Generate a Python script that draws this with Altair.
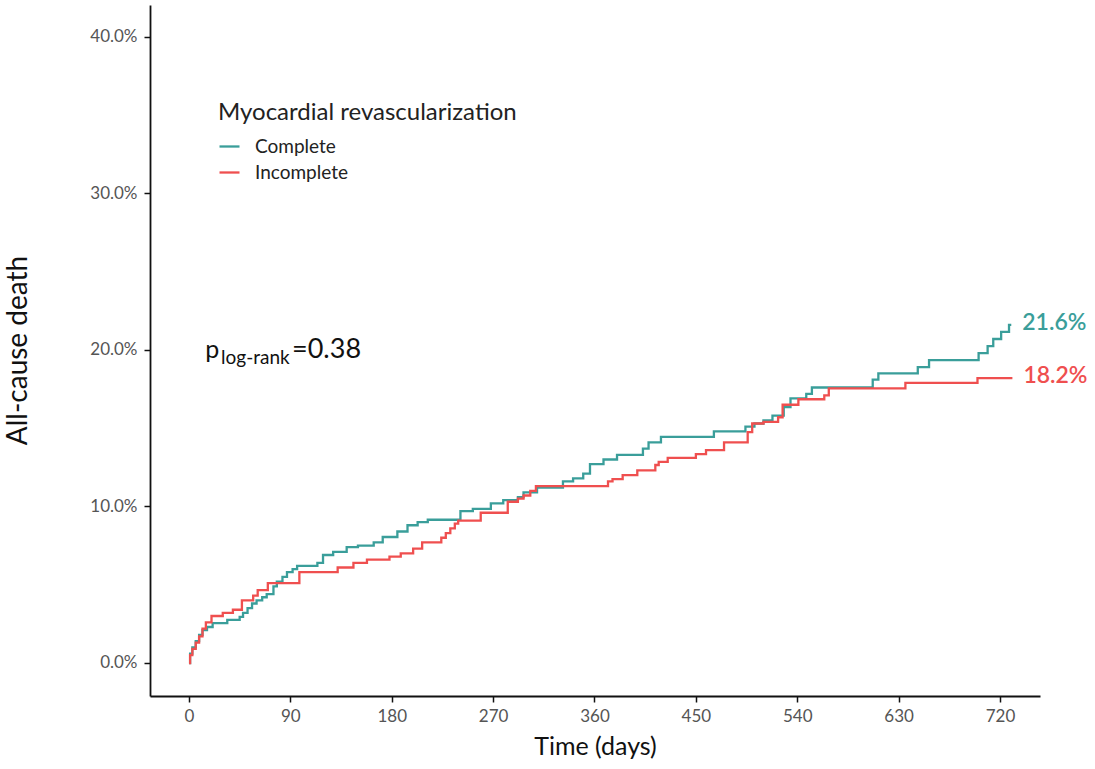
import altair as alt
import pandas as pd

# ---- data (days, cumulative %) ----
complete_t = [0, 1, 3, 6, 9, 12, 16, 21, 34, 45, 48, 52, 56, 60, 65, 69, 75, 78, 83, 87, 92, 96,
              114, 119, 128, 140, 150, 164, 172, 185, 194, 203, 212, 241, 252, 268, 279, 292, 297,
              309, 332, 341, 350, 356, 368, 380, 403, 408, 419, 466, 494, 502, 510, 518, 528, 534,
              548, 553, 607, 612, 647, 657, 701, 709, 714, 721, 728, 730]
complete_v = [0.0, 0.6, 1.0, 1.4, 1.8, 2.1, 2.3, 2.55, 2.75, 2.95, 3.2, 3.5, 3.8, 4.0, 4.2, 4.4, 4.9,
              5.2, 5.5, 5.8, 6.0, 6.2, 6.4, 6.9, 7.1, 7.4, 7.5, 7.7, 8.05, 8.4, 8.8, 9.0, 9.15, 9.7,
              9.85, 10.2, 10.4, 10.6, 10.9, 11.2, 11.6, 11.8, 12.1, 12.7, 13.0, 13.3, 13.7, 14.1,
              14.45, 14.8, 15.1, 15.3, 15.5, 15.8, 16.35, 16.9, 17.2, 17.6, 18.1, 18.5, 18.9, 19.35,
              19.8, 20.25, 20.7, 21.15, 21.6, 21.6]

incomplete_t = [0, 1, 3, 6, 9, 12, 15, 20, 30, 39, 47, 57, 61, 70, 98, 132, 146, 158, 178, 188, 199,
                207, 224, 228, 232, 236, 239, 259, 283, 292, 297, 303, 308, 372, 376, 385, 398, 414,
                417, 425, 450, 459, 475, 496, 500, 510, 523, 527, 541, 564, 568, 636, 700, 731]
incomplete_v = [0.0, 0.5, 0.9, 1.3, 1.7, 2.2, 2.6, 3.0, 3.2, 3.4, 4.0, 4.3, 4.65, 5.1, 5.8, 6.1, 6.4,
                6.6, 6.8, 7.0, 7.3, 7.7, 8.0, 8.3, 8.6, 8.9, 9.1, 9.6, 10.3, 10.5, 10.7, 11.0, 11.3,
                11.6, 11.75, 12.0, 12.3, 12.65, 12.85, 13.1, 13.35, 13.6, 14.1, 14.75, 15.3, 15.4,
                15.7, 16.5, 16.85, 17.1, 17.55, 17.9, 18.2, 18.2]

groups = ["Complete", "Incomplete"]
colors = ["#3a9e9a", "#ef4f4f"]
end_labels = ["21.6%", "18.2%"]

x_ticks = [0, 90, 180, 270, 360, 450, 540, 630, 720]
y_ticks = [0, 10, 20, 30, 40]

# p-value annotation pieces (text, day, %, size)
p_text = ["p", "log-rank", "=0.38"]
p_t = [14.5, 28.5, 91.5]
p_v = [19.5, 19.1, 19.5]
p_size = [25, 19, 27]

# ---- tables ----
curve = pd.concat([
    pd.DataFrame({"t": complete_t, "v": complete_v, "group": groups[0]}),
    pd.DataFrame({"t": incomplete_t, "v": incomplete_v, "group": groups[1]}),
])
ends = pd.DataFrame({
    "t": [complete_t[-1], incomplete_t[-1]],
    "v": [complete_v[-1], incomplete_v[-1]],
    "group": groups,
    "label": end_labels,
})
pdf = pd.DataFrame({"text": p_text, "t": p_t, "v": p_v, "size": p_size})

FONT = "Lato"
xscale = alt.Scale(domain=[-34.6, 755.5], nice=False, zero=False)
yscale = alt.Scale(domain=[-2.11, 42.04], nice=False, zero=False)
cscale = alt.Scale(domain=groups, range=colors)

lines = alt.Chart(curve).mark_line(interpolate="step-after", strokeWidth=2.3).encode(
    x=alt.X("t:Q", scale=xscale,
            axis=alt.Axis(values=x_ticks, title="Time (days)", titleFontSize=25,
                          titleFontWeight="normal", titleY=38, titleBaseline="top",
                          labelPadding=6)),
    y=alt.Y("v:Q", scale=yscale,
            axis=alt.Axis(values=y_ticks, title="All-cause death",
                          labelExpr="format(datum.value, '.1f') + '%'",
                          titleFontSize=28, titleFontWeight="normal",
                          titleX=-118, titleY=345, labelPadding=7)),
    color=alt.Color("group:N", scale=cscale,
                    legend=alt.Legend(title="Myocardial revascularization", orient="none",
                                      legendX=68, legendY=96, symbolType="stroke",
                                      symbolStrokeWidth=2.3, symbolSize=400,
                                      titleFontSize=24, labelFontSize=19, titleLimit=600,
                                      titleFontWeight="normal", titleColor="#222",
                                      labelColor="#222", rowPadding=4, titlePadding=10,
                                      labelOffset=14, titleFont=FONT, labelFont=FONT)),
    detail="group:N",
)

end_text = alt.Chart(ends).mark_text(align="left", baseline="middle", dx=11, dy=-2,
                                     fontSize=23, fontWeight=600, font=FONT).encode(
    x=alt.X("t:Q", scale=xscale),
    y=alt.Y("v:Q", scale=yscale),
    text="label:N",
    color=alt.Color("group:N", scale=cscale, legend=None),
)

ptext = alt.Chart(pdf).mark_text(align="left", baseline="alphabetic", font=FONT,
                                 color="#111").encode(
    x=alt.X("t:Q", scale=xscale),
    y=alt.Y("v:Q", scale=yscale),
    text="text:N",
    size=alt.Size("size:Q", scale=None, legend=None),
)

chart = alt.layer(lines, end_text, ptext).properties(
    width=890, height=691,
    padding={"left": 150, "top": 5, "right": 55, "bottom": 73},
    autosize="none",
    background="white",
).configure_view(stroke=None).configure_axis(
    grid=False, domainColor="#111", domainWidth=1.8, tickColor="#111", tickWidth=1.5,
    tickSize=6, labelColor="#555", labelFontSize=17, labelFont=FONT, titleFont=FONT,
    titleColor="#111",
)

chart.save("out.html", embed_options={"renderer": "svg", "actions": False})
